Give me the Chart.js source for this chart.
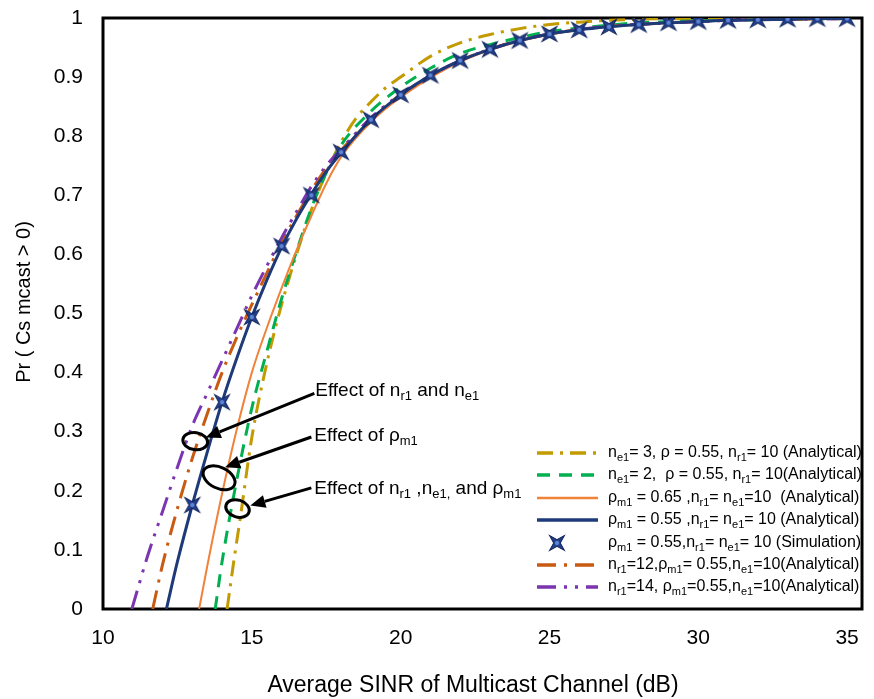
<!DOCTYPE html>
<html>
<head>
<meta charset="utf-8">
<script src="https://cdn.jsdelivr.net/npm/chart.js@4"></script>
<style>body{margin:0;background:#fff}</style>
</head>
<body>
<canvas id="chart" width="874" height="699"></canvas>
<script>
// tick values
const xTicks = [10, 15, 20, 25, 30, 35];
const yTicks = [0, 0.1, 0.2, 0.3, 0.4, 0.5, 0.6, 0.7, 0.8, 0.9, 1];

// n_e1 = 3 (analytical)
const goldX = [14.17, 14.4, 14.6, 15, 15.5, 16, 16.5, 17, 17.5, 18, 18.5, 19, 19.5, 20, 21, 22, 23, 24, 25, 26, 27, 28, 30, 35];
const goldY = [0, 0.083, 0.15, 0.29, 0.415, 0.515, 0.6, 0.675, 0.738, 0.79, 0.83, 0.858, 0.882, 0.9, 0.935, 0.958, 0.972, 0.982, 0.989, 0.993, 0.996, 0.998, 0.999, 1.0];

// n_e1 = 2 (analytical)
const greenX = [13.77, 14, 14.5, 15, 15.5, 16, 16.5, 17, 17.5, 18, 19, 20, 21, 22, 23, 24, 25, 26, 27, 28, 30, 32, 35];
const greenY = [0, 0.08, 0.22, 0.34, 0.435, 0.525, 0.605, 0.678, 0.738, 0.785, 0.842, 0.883, 0.915, 0.94, 0.955, 0.967, 0.977, 0.983, 0.988, 0.992, 0.995, 0.997, 0.999];

// rho_m1 = 0.65 (analytical)
const orangeX = [13.23, 13.5, 14, 14.5, 15, 15.5, 16, 16.5, 17, 17.5, 18, 19, 20, 22, 25, 30, 35];
const orangeY = [0, 0.072, 0.195, 0.305, 0.4, 0.475, 0.543, 0.607, 0.665, 0.72, 0.765, 0.824, 0.866, 0.926, 0.972, 0.994, 0.999];

// rho_m1 = 0.55 (analytical)
const blueX = [12.13, 12.5, 13, 13.5, 14, 14.5, 15, 15.5, 16, 16.5, 17, 17.5, 18, 19, 20, 21, 22, 23, 24, 25, 26, 27, 28, 29, 30, 31, 32, 33, 34, 35];
const blueY = [0, 0.08, 0.176, 0.265, 0.35, 0.425, 0.494, 0.556, 0.612, 0.66, 0.702, 0.74, 0.772, 0.828, 0.87, 0.903, 0.928, 0.947, 0.962, 0.973, 0.98, 0.985, 0.989, 0.992, 0.994, 0.996, 0.997, 0.998, 0.999, 0.999];

// rho_m1 = 0.55 (simulation)
const simX = [13, 14, 15, 16, 17, 18, 19, 20, 21, 22, 23, 24, 25, 26, 27, 28, 29, 30, 31, 32, 33, 34, 35];
const simY = [0.176, 0.35, 0.494, 0.614, 0.7, 0.773, 0.828, 0.87, 0.903, 0.928, 0.947, 0.962, 0.973, 0.98, 0.985, 0.989, 0.992, 0.994, 0.996, 0.997, 0.998, 0.999, 0.999];

// n_r1 = 12 (analytical)
const brownX = [11.67, 12, 12.5, 13, 13.5, 14, 14.5, 15, 15.5, 16, 16.5, 17, 17.5, 18, 19, 20, 22, 25, 30, 35];
const brownY = [0, 0.075, 0.17, 0.255, 0.33, 0.4, 0.46, 0.515, 0.568, 0.62, 0.665, 0.708, 0.746, 0.776, 0.83, 0.87, 0.928, 0.973, 0.994, 0.999];

// n_r1 = 14 (analytical)
const purpleX = [10.97, 11.5, 12, 12.5, 13, 13.5, 14, 14.5, 15, 15.5, 16, 16.5, 17, 17.5, 18, 19, 20, 22, 25, 30, 35];
const purpleY = [0, 0.09, 0.165, 0.24, 0.31, 0.365, 0.42, 0.475, 0.53, 0.58, 0.628, 0.672, 0.715, 0.75, 0.778, 0.831, 0.871, 0.928, 0.973, 0.994, 0.999];

// legend labels, [text, isSubscript]
const legendLabels = [
    [['n',0],['e1',1],['= 3, \u03c1 = 0.55, n',0],['r1',1],['= 10 (Analytical)',0]],
    [['n',0],['e1',1],['= 2,  \u03c1 = 0.55, n',0],['r1',1],['= 10(Analytical)',0]],
    [['\u03c1',0],['m1',1],[' = 0.65 ,n',0],['r1',1],['= n',0],['e1',1],['=10  (Analytical)',0]],
    [['\u03c1',0],['m1',1],[' = 0.55 ,n',0],['r1',1],['= n',0],['e1',1],['= 10 (Analytical)',0]],
    [['\u03c1',0],['m1',1],[' = 0.55,n',0],['r1',1],['= n',0],['e1',1],['= 10 (Simulation)',0]],
    [['n',0],['r1',1],['=12,\u03c1',0],['m1',1],['= 0.55,n',0],['e1',1],['=10(Analytical)',0]],
    [['n',0],['r1',1],['=14, \u03c1',0],['m1',1],['=0.55,n',0],['e1',1],['=10(Analytical)',0]]
];

// annotation texts
const noteLabels = [
    [['Effect of n',0],['r1',1],[' and n',0],['e1',1]],
    [['Effect of \u03c1',0],['m1',1]],
    [['Effect of n',0],['r1',1],[' ,n',0],['e1,',1],[' and \u03c1',0],['m1',1]]
];

const FONT = "'Liberation Sans', Arial, Helvetica, sans-serif";
const TICK_FONT = { family: FONT, size: 21 };

function toPoints(xs, ys) {
    return xs.map((x, i) => ({ x: x, y: ys[i] }));
}

function starMarker(size) {
    const c = document.createElement('canvas');
    c.width = c.height = size;
    const g = c.getContext('2d');
    const r = size / 2;
    g.translate(r, r);
    g.rotate(Math.PI / 4);
    g.beginPath();
    for (let i = 0; i < 8; i++) {
        const a = i * Math.PI / 4;
        const rr = i % 2 === 0 ? r - 0.5 : size * 0.15;
        g.lineTo(rr * Math.cos(a), rr * Math.sin(a));
    }
    g.closePath();
    g.fillStyle = '#233F8C';
    g.fill();
    g.strokeStyle = '#13275E';
    g.lineWidth = 1;
    g.stroke();
    g.fillStyle = '#5E84D6';
    g.beginPath();
    g.arc(0, 0, 2.2, 0, Math.PI * 2);
    g.fill();
    return c;
}
const star = starMarker(22);

function drawRich(ctx, parts, x, y, size) {
    ctx.textBaseline = 'middle';
    ctx.textAlign = 'left';
    parts.forEach(p => {
        if (p[1]) {
            ctx.font = Math.round(size * 0.68) + 'px ' + FONT;
            ctx.fillText(p[0], x, y + size * 0.3);
        } else {
            ctx.font = size + 'px ' + FONT;
            ctx.fillText(p[0], x, y);
        }
        x += ctx.measureText(p[0]).width;
    });
}

function arrow(ctx, x1, y1, x2, y2) {
    const a = Math.atan2(y2 - y1, x2 - x1);
    const hl = 15, hw = 6.5;
    const bx = x2 - hl * Math.cos(a), by = y2 - hl * Math.sin(a);
    ctx.beginPath();
    ctx.moveTo(x1, y1);
    ctx.lineTo(bx, by);
    ctx.stroke();
    ctx.beginPath();
    ctx.moveTo(x2, y2);
    ctx.lineTo(bx + hw * Math.sin(a), by - hw * Math.cos(a));
    ctx.lineTo(bx - hw * Math.sin(a), by + hw * Math.cos(a));
    ctx.closePath();
    ctx.fill();
}

// frame, behind the curves
const framePlugin = {
    id: 'frame',
    beforeDatasetsDraw(chart) {
        const { ctx, chartArea: a } = chart;
        ctx.save();
        ctx.strokeStyle = '#000';
        ctx.lineWidth = 3;
        ctx.strokeRect(a.left, a.top, a.right - a.left, a.bottom - a.top);
        ctx.restore();
    }
};

// legend, notes and axis titles
const extrasPlugin = {
    id: 'extras',
    afterDraw(chart) {
        const { ctx, scales: { x, y } } = chart;
        const px = v => x.getPixelForValue(v);
        const py = v => y.getPixelForValue(v);
        ctx.save();
        ctx.fillStyle = '#000';
        ctx.strokeStyle = '#000';

        // ellipses
        ctx.lineWidth = 3;
        [[13.1, 0.284, 12.5, 8.5, 0.15], [13.9, 0.222, 17, 10.5, 0.45], [14.52, 0.17, 12, 8.5, 0.3]].forEach(e => {
            ctx.beginPath();
            ctx.ellipse(px(e[0]), py(e[1]), e[2], e[3], e[4], 0, Math.PI * 2);
            ctx.stroke();
        });

        // arrows
        ctx.lineWidth = 3;
        arrow(ctx, px(17.1), py(0.365), px(13.45), py(0.29));
        arrow(ctx, px(17.0), py(0.291), px(14.1), py(0.24));
        arrow(ctx, px(17.0), py(0.205), px(14.95), py(0.175));

        // note texts
        ctx.fillStyle = '#000';
        drawRich(ctx, noteLabels[0], px(17.13), py(0.369), 19);
        drawRich(ctx, noteLabels[1], px(17.1), py(0.293), 19);
        drawRich(ctx, noteLabels[2], px(17.1), py(0.203), 19);

        // legend
        const rows = [453, 475, 498, 520, 543, 565, 587];
        rows.forEach((ry, i) => {
            const ds = chart.data.datasets.find(d => d.legendIndex === i);
            if (ds.showLine === false) {
                ctx.drawImage(star, 557 - 11, ry - 11);
            } else {
                ctx.save();
                ctx.strokeStyle = ds.borderColor;
                ctx.lineWidth = ds.borderWidth + 0.5;
                ctx.setLineDash(ds.borderDash || []);
                ctx.beginPath();
                ctx.moveTo(537, ry);
                ctx.lineTo(598, ry);
                ctx.stroke();
                ctx.restore();
            }
            ctx.fillStyle = '#000';
            drawRich(ctx, legendLabels[i], 608, ry, 16);
        });

        // axis titles
        ctx.fillStyle = '#000';
        ctx.textAlign = 'center';
        ctx.textBaseline = 'middle';
        ctx.font = '23px ' + FONT;
        ctx.fillText('Average SINR of Multicast Channel (dB)', 473, 686);
        ctx.font = '20px ' + FONT;
        ctx.translate(24, 302);
        ctx.rotate(-Math.PI / 2);
        ctx.fillText('Pr ( Cs mcast > 0)', 0, 0);
        ctx.restore();
    }
};

const line = (pts, color, width, dash, order, legendIndex) => ({
    data: pts,
    borderColor: color,
    backgroundColor: color,
    borderWidth: width,
    borderDash: dash,
    pointRadius: 0,
    fill: false,
    cubicInterpolationMode: 'monotone',
    order: order,
    legendIndex: legendIndex
});

new Chart(document.getElementById('chart').getContext('2d'), {
    type: 'line',
    data: {
        datasets: [
            line(toPoints(goldX, goldY), '#C39A00', 3, [16, 7, 3, 7], 6, 0),
            line(toPoints(greenX, greenY), '#00B050', 3, [13, 9], 5, 1),
            line(toPoints(orangeX, orangeY), '#F0823A', 2, [], 4, 2),
            line(toPoints(brownX, brownY), '#C85A12', 3, [19, 8, 3, 8], 3, 5),
            line(toPoints(purpleX, purpleY), '#7B35B0', 3, [19, 8, 3, 8, 3, 8], 2, 6),
            line(toPoints(blueX, blueY), '#1F3A78', 3, [], 1, 3),
            {
                data: toPoints(simX, simY),
                showLine: false,
                pointStyle: star,
                pointRadius: 11,
                pointHoverRadius: 11,
                order: 0,
                legendIndex: 4
            }
        ]
    },
    options: {
        responsive: false,
        devicePixelRatio: 1,
        animation: false,
        events: [],
        layout: { padding: { top: 18, right: 5, left: 0, bottom: 0 } },
        plugins: {
            legend: { display: false },
            tooltip: { enabled: false }
        },
        scales: {
            x: {
                type: 'linear',
                min: 10,
                max: 35.5,
                afterBuildTicks: s => { s.ticks = xTicks.map(v => ({ value: v })); },
                afterFit: s => { s.height = 90; s.paddingLeft = 0; s.paddingRight = 0; },
                grid: { display: false, drawTicks: false },
                border: { display: false },
                ticks: {
                    padding: 17,
                    color: '#000',
                    font: TICK_FONT,
                    maxRotation: 0
                }
            },
            y: {
                type: 'linear',
                min: 0,
                max: 1,
                afterBuildTicks: s => { s.ticks = yTicks.map(v => ({ value: v })); },
                afterFit: s => { s.width = 103; s.paddingTop = 0; s.paddingBottom = 0; },
                grid: { display: false, drawTicks: false },
                border: { display: false },
                ticks: {
                    padding: 20,
                    color: '#000',
                    font: TICK_FONT,
                    callback: v => String(v)
                }
            }
        }
    },
    plugins: [framePlugin, extrasPlugin]
});
</script>
</body>
</html>
